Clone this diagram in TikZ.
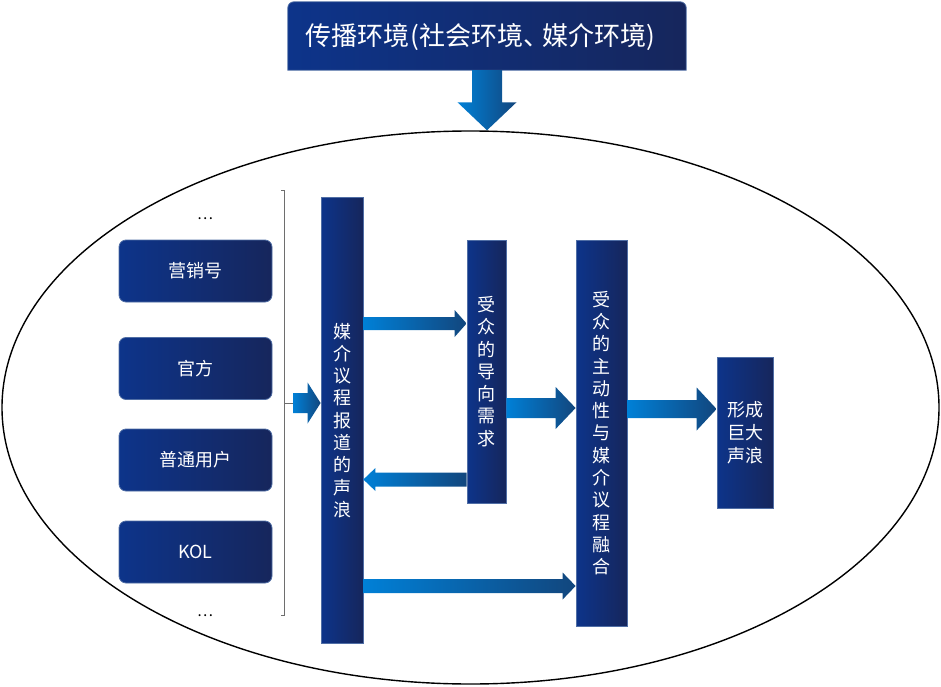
\documentclass[tikz,border=0pt]{standalone}
\usepackage{fontspec}
\setmainfont{Noto Sans CJK SC}
\usetikzlibrary{calc,shapes.geometric,backgrounds}
\definecolor{boxL}{RGB}{13,52,138}
\definecolor{boxR}{RGB}{22,38,92}
\definecolor{boxEdge}{RGB}{80,110,165}
\definecolor{arrL}{RGB}{0,128,215}
\definecolor{arrR}{RGB}{18,70,125}
\definecolor{brk}{RGB}{110,110,110}
\tikzset{
 darkbox/.style={draw=boxEdge, line width=0.8pt, left color=boxL, right color=boxR, text=white, inner sep=0pt, align=center},
 srcbox/.style={darkbox, rounded corners=7pt, minimum width=153pt, minimum height=62pt, font=\fontsize{18}{22}\selectfont},
 colbox/.style={darkbox, font=\fontsize{18}{22.3}\selectfont},
 arrowshade/.style={left color=arrL, right color=arrR},
 dotstyle/.style={font=\fontsize{15}{15}\selectfont, text=black, anchor=base},
}
% right-pointing block arrow: from, to, y, shaft half, head half, head length
\newcommand\rarrow[6]{\shade[arrowshade] let \p1=(#1), \p2=(#2) in
 (\x1,{-#3pt+#4pt}) -- ({\x2-#6pt},{-#3pt+#4pt}) -- ({\x2-#6pt},{-#3pt+#5pt}) -- (\x2,{-#3pt})
 -- ({\x2-#6pt},{-#3pt-#5pt}) -- ({\x2-#6pt},{-#3pt-#4pt}) -- (\x1,{-#3pt-#4pt}) -- cycle;}
\newcommand\larrow[6]{\shade[arrowshade] let \p1=(#1), \p2=(#2) in
 (\x1,{-#3pt+#4pt}) -- ({\x2+#6pt},{-#3pt+#4pt}) -- ({\x2+#6pt},{-#3pt+#5pt}) -- (\x2,{-#3pt})
 -- ({\x2+#6pt},{-#3pt-#5pt}) -- ({\x2+#6pt},{-#3pt-#4pt}) -- (\x1,{-#3pt-#4pt}) -- cycle;}
\newcommand\darrow[5]{\shade[arrowshade] let \p1=(#1), \p2=(#2) in
 ({\x1-#3pt},\y1) -- ({\x1-#3pt},{\y2+#5pt}) -- ({\x1-#4pt},{\y2+#5pt}) -- (\x1,\y2)
 -- ({\x1+#4pt},{\y2+#5pt}) -- ({\x1+#3pt},{\y2+#5pt}) -- ({\x1+#3pt},\y1) -- cycle;}
\begin{document}
\begin{tikzpicture}[x=1pt,y=-1pt]
\useasboundingbox (0,0) rectangle (941,687);
% big ellipse
\node[draw, ellipse, line width=1.4pt, minimum width=937pt, minimum height=553pt, inner sep=0pt] (ell) at (470.5,407.5) {};
% top box
\node[minimum width=398pt, minimum height=68pt, inner sep=0pt] (top) at (487,36) {};
\shade[left color=boxL, right color=boxR, draw=boxEdge, line width=0.8pt]
  (top.south west) [rounded corners=6pt] -- (top.north west) -- (top.north east) [sharp corners] -- (top.south east) -- cycle;
\node[text=white, font=\fontsize{26}{30}\selectfont, inner sep=0pt, anchor=west] (toptext) at ([xshift=17pt,yshift=-1pt]top.west) {传播环境\kern2pt(社会环境、\kern-7pt 媒介环境)};
\darrow{top.south}{ell.north}{15}{29.5}{28}
% source boxes
\node[srcbox] (s1) at (195.5,271) {营销号};
\node[srcbox] (s2) at (195.5,368.5) {官方};
\node[srcbox] (s3) at (195.5,460) {普通用户};
\node[srcbox] (s4) at (195.5,552) {KOL};
\node[dotstyle] (d1) at (205,219) {…};
\node[dotstyle] (d2) at (205,616) {…};
% bracket
\coordinate (bt) at (281,190);
\coordinate (bb) at (281,615);
\coordinate (bm) at (284,403);
\coordinate (bq) at (293,403);
\draw[brk, line width=1pt] (bt) -- ++(3,0) |- (bb);
\draw[brk, line width=1pt] (bm) -- (bq);
% column boxes
\node[colbox, minimum width=42pt, minimum height=446pt] (m) at (342,420.5) {媒\\介\\议\\程\\报\\道\\的\\声\\浪};
\node[colbox, minimum width=39pt, minimum height=263pt] (d) at (486.5,371.5) {受\\众\\的\\导\\向\\需\\求};
\node[colbox, minimum width=51pt, minimum height=386pt] (f) at (601.5,433) {受\\众\\的\\主\\动\\性\\与\\媒\\介\\议\\程\\融\\合};
\node[colbox, minimum width=56pt, minimum height=151pt, font=\fontsize{18}{23}\selectfont] (g) at (745,432.5) {形成\\巨大\\声浪};
% arrows
\rarrow{bq}{m.west}{403}{10}{20.5}{13}
\rarrow{m.east}{d.west}{323.5}{6.5}{13.5}{12}
\larrow{d.west}{m.east}{479.5}{7}{11.5}{12}
\rarrow{d.east}{f.west}{408}{10}{21}{20}
\rarrow{f.east}{g.west}{409}{9}{21.5}{20}
\rarrow{m.east}{f.west}{586}{7}{13.5}{13}
\end{tikzpicture}
\end{document}
